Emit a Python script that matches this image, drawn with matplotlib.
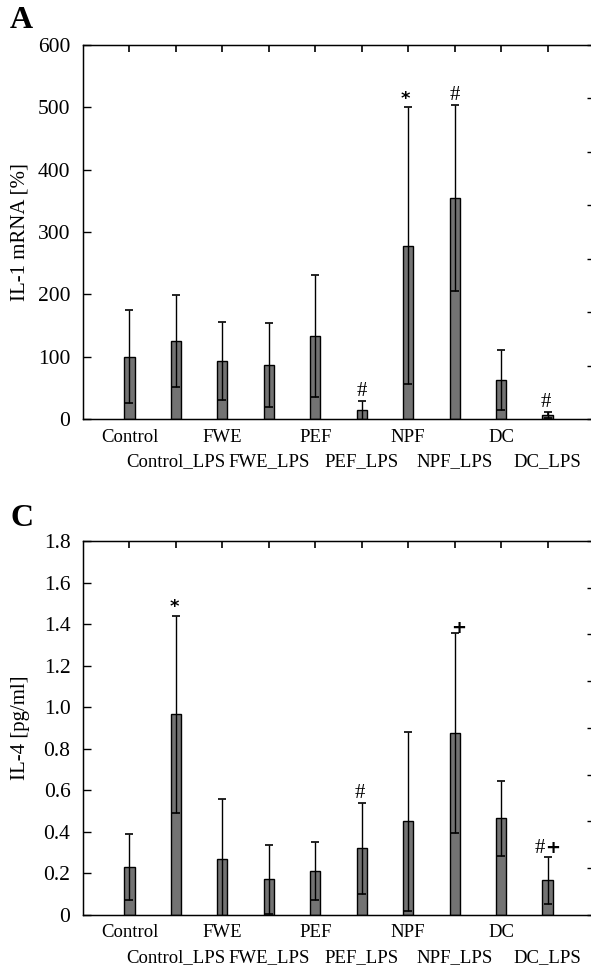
import matplotlib
matplotlib.use("Agg")
import matplotlib.pyplot as plt
import matplotlib.transforms as mtransforms
import numpy as np

plt.rcParams['font.family'] = ['Liberation Serif', 'DejaVu Serif']

categories = ['Control', 'Control_LPS', 'FWE', 'FWE_LPS', 'PEF', 'PEF_LPS',
              'NPF', 'NPF_LPS', 'DC', 'DC_LPS']

# Panel A: IL-1 mRNA [%]
il1_mean = [100, 125, 93, 87, 133, 14, 278, 354, 62, 7]
il1_err = [75, 74, 62, 67, 98, 15, 222, 149, 48, 5]
il1_marks = ['', '', '', '', '', '#', '*', '#', '', '#']
il1_mark_y = [0, 0, 0, 0, 0, 44, 514, 519, 0, 27]
il1_mark_dx = [0, 0, 0, 0, 0, 0, -0.05, 0, 0, -0.03]
il1_ticks = [0, 100, 200, 300, 400, 500, 600]

# Panel C: IL-4 [pg/ml]
il4_mean = [0.23, 0.965, 0.27, 0.17, 0.21, 0.32, 0.45, 0.875, 0.465, 0.165]
il4_err = [0.16, 0.475, 0.285, 0.165, 0.14, 0.22, 0.43, 0.48, 0.18, 0.115]
il4_marks = ['', '*', '', '', '', '#', '', '+', '', '#+']
il4_mark_y = [0, 1.482, 0, 0, 0, 0.585, 0, 1.381, 0, 0.32]
il4_mark_dx = [0, -0.04, 0, 0, 0, -0.05, 0, 0.09, 0, -0.06]
il4_ticks = [0, 0.2, 0.4, 0.6, 0.8, 1.0, 1.2, 1.4, 1.6, 1.8]
il4_ticklabels = ['0', '0.2', '0.4', '0.6', '0.8', '1.0', '1.2', '1.4', '1.6', '1.8']

W, H = 591, 969
fig = plt.figure(figsize=(W / 100, H / 100), dpi=100)


def draw_mark(ax, x, y, m):
    # '#' in serif, '*' and '+' heavier
    if m == '#+':
        ax.text(x - 0.005, y, '#', ha='right', va='center', fontsize=15)
        ax.text(x + 0.005, y + 0.003, '+', ha='left', va='center', fontsize=13,
                fontweight='bold', family='DejaVu Sans')
    elif m == '#':
        ax.text(x, y, '#', ha='center', va='center', fontsize=15)
    else:
        ax.text(x, y, m, ha='center', va='center', fontsize=13,
                fontweight='bold', family='DejaVu Sans')


def make_panel(top_px, bottom_px, means, errs, marks, mark_y, mark_dx, ymax,
               yticks, yticklabels, right_n, ylabel, letter, letter_y):
    left_px, right_px = 83, 594
    ax = fig.add_axes([left_px / W, (H - bottom_px) / H,
                       (right_px - left_px) / W, (bottom_px - top_px) / H])
    x = np.arange(1, len(categories) + 1)
    ax.bar(x, means, width=0.22, color='#737373', edgecolor='black',
           linewidth=1.0, zorder=2)
    ax.errorbar(x, means, yerr=errs, fmt='none', ecolor='black',
                elinewidth=1.0, capsize=2.6, capthick=1.2, zorder=3)
    ax.set_xlim(0, 11)
    ax.set_ylim(0, ymax)
    ax.set_xticks(x)
    ax.set_xticklabels([])
    ax.set_yticks(yticks)
    ax.set_yticklabels(yticklabels, fontsize=15.5)
    ax.tick_params(axis='x', direction='in', length=5, width=1.2,
                   top=True, bottom=True)
    ax.tick_params(axis='y', direction='in', length=6, width=1.0,
                   right=False, pad=9)
    for s in ax.spines.values():
        s.set_linewidth(1.0)
    ax2 = ax.twinx()
    ax2.set_ylim(0, ymax)
    ax2.set_yticks(np.linspace(0, ymax, right_n + 1))
    ax2.tick_params(axis='y', direction='in', length=5, width=1.0,
                    labelright=False)
    ax.set_ylabel(ylabel, fontsize=15)
    ax.yaxis.set_label_coords(-53 / (right_px - left_px), 0.5)

    trans = mtransforms.blended_transform_factory(ax.transData, ax.transAxes)
    h = bottom_px - top_px
    for i, name in enumerate(categories):
        yy = -18 / h if i % 2 == 0 else -43 / h
        ax.text(x[i], yy, name, transform=trans, ha='center', va='center',
                fontsize=13.5)
    for i, m in enumerate(marks):
        if m:
            draw_mark(ax, x[i] + mark_dx[i], mark_y[i], m)
    fig.text(10 / W, 1 - letter_y / H, letter, fontsize=23, fontweight='bold',
             ha='left', va='center')
    return ax


make_panel(45, 419, il1_mean, il1_err, il1_marks, il1_mark_y,
           il1_mark_dx, 600, il1_ticks, [str(t) for t in il1_ticks], 7,
           'IL-1 mRNA [%]', 'A', 21)
make_panel(541, 914.7, il4_mean, il4_err, il4_marks, il4_mark_y,
           il4_mark_dx, 1.8, il4_ticks, il4_ticklabels, 8,
           'IL-4 [pg/ml]', 'C', 519)

fig.savefig('out.png', dpi=100)
